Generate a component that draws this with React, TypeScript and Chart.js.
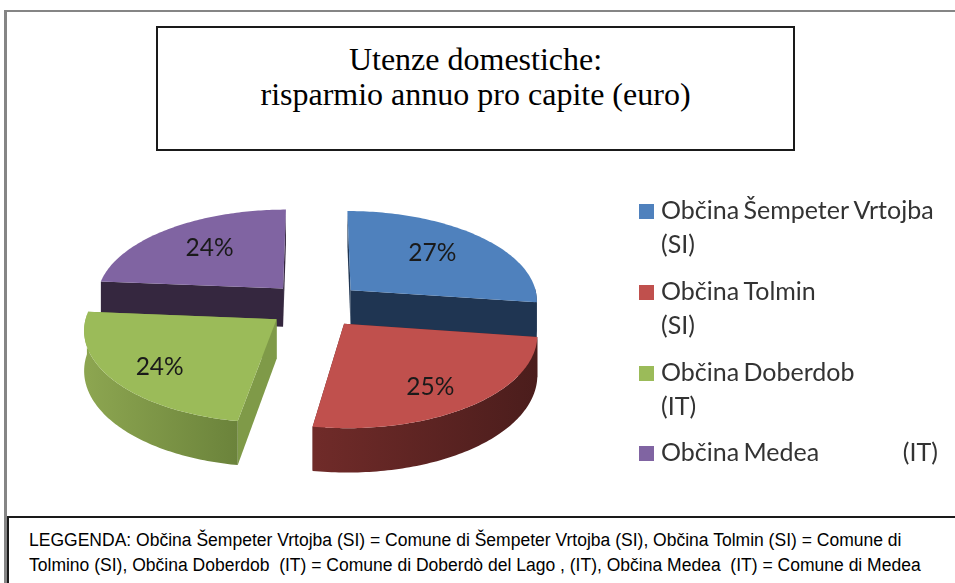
import React, { useEffect, useRef } from "react";
import { Chart, registerables } from "chart.js";

Chart.register(...registerables);

const categories: string[][] = [
  ["Občina Šempeter Vrtojba", "(SI)"],
  ["Občina Tolmin", "(SI)"],
  ["Občina Doberdob", "(IT)"],
  ["Občina Medea                   (IT)"],
];
const shares = [27.2, 25.4, 23.7, 23.7];
const topColors = ["#4f81bd", "#c0504d", "#9bbb59", "#8064a2"];
const rimColors = [
  ["#1f3552", "#1f3552"],
  ["#702b29", "#4b1d1c"],
  ["#8ca550", "#6b833b"],
  ["#35273f", "#35273f"],
];
const wallColors = ["#1f3552", "#5a2322", "#7f9a48", "#35273f"];
const labelRadii = [0.58, 0.7, 0.83, 0.59];
const labelNudges = [[5, -5], [0, 7], [17, -2], [-4, -4]];
const titleLines = ["Utenze domestiche:", "risparmio annuo pro capite (euro)"];
const noteLines = [
  "LEGGENDA: Občina Šempeter Vrtojba (SI) = Comune di Šempeter Vrtojba (SI), Občina Tolmin (SI) = Comune di",
  "Tolmino (SI), Občina Doberdob  (IT) = Comune di Doberdò del Lago , (IT), Občina Medea  (IT) = Comune di Medea",
];

const TILT = 0.478;
const PERSPECTIVE = 10;
const DEPTH = 39;
const DRAW_ORDER = [3, 0, 2, 1];

const pie3d = {
  id: "pie3d",
  beforeDatasetsDraw(chart: any) {
    const ctx: any = chart.ctx;
    const arcs = chart.getDatasetMeta(0).data;
    const project = (arc: any, x: number, y: number, z: number) => {
      const s = (PERSPECTIVE * arc.outerRadius) / (PERSPECTIVE * arc.outerRadius - y);
      return [arc.x + x * s, arc.y + TILT * y * s + z * s];
    };
    const poly = (pts: number[][], fill: any) => {
      ctx.beginPath();
      pts.forEach((p, i) => (i ? ctx.lineTo(p[0], p[1]) : ctx.moveTo(p[0], p[1])));
      ctx.closePath();
      ctx.fillStyle = fill;
      ctx.fill();
    };
    DRAW_ORDER.forEach((i) => {
      const arc = arcs[i];
      const R = arc.outerRadius;
      const a0 = arc.startAngle;
      const a1 = arc.endAngle;
      const mid = (a0 + a1) / 2;
      const off = arc.options.offset;
      const ox = off * Math.cos(mid);
      const oy = off * Math.sin(mid);
      const angles: number[] = [];
      const steps = 90;
      for (let k = 0; k <= steps; k++) angles.push(a0 + ((a1 - a0) * k) / steps);
      const edge = (t: number, z: number) =>
        project(arc, ox + R * Math.cos(t), oy + R * Math.sin(t), z);
      const apex = (z: number) => project(arc, ox, oy, z);

      [a0, a1].forEach((t) => {
        poly([apex(0), edge(t, 0), edge(t, DEPTH), apex(DEPTH)], wallColors[i]);
      });
      const visible = angles.filter((t) => Math.sin(t) > -0.05);
      if (visible.length > 1) {
        const xs = [edge(a0, 0)[0], edge(a1, 0)[0]];
        const g = ctx.createLinearGradient(Math.min(...xs), 0, Math.max(...xs), 0);
        g.addColorStop(0, rimColors[i][0]);
        g.addColorStop(1, rimColors[i][1]);
        poly(
          [
            ...visible.map((t) => edge(t, 0)),
            ...visible.slice().reverse().map((t) => edge(t, DEPTH)),
          ],
          g
        );
      }
      poly([apex(0), ...angles.map((t) => edge(t, 0))], topColors[i]);
    });

    ctx.fillStyle = "#1a1a1a";
    ctx.font = "24.5px Lato";
    ctx.textAlign = "center";
    ctx.textBaseline = "middle";
    arcs.forEach((arc: any, i: number) => {
      const mid = (arc.startAngle + arc.endAngle) / 2;
      const off = arc.options.offset;
      const r = arc.outerRadius * labelRadii[i] + off;
      const p = project(arc, r * Math.cos(mid), r * Math.sin(mid), 0);
      ctx.fillText(`${Math.round(shares[i])}%`, p[0] + labelNudges[i][0], p[1] + labelNudges[i][1]);
    });

    const rowY = [211, 292, 373, 453];
    ctx.textAlign = "left";
    ctx.font = "25px Lato";
    ctx.wordSpacing = "-2px";
    categories.forEach((lines, i) => {
      ctx.fillStyle = topColors[i];
      ctx.fillRect(639, rowY[i] - 7, 15, 15);
      ctx.fillStyle = "#333333";
      lines.forEach((line, j) => ctx.fillText(line, 661, rowY[i] + j * 34));
    });
    ctx.wordSpacing = "0px";
    return false;
  },
};

export default function App() {
  const ref = useRef<HTMLCanvasElement>(null);
  useEffect(() => {
    const chart = new Chart(ref.current!, {
      type: "pie",
      data: {
        labels: categories.map((c) => c.join(" ")),
        datasets: [{ data: shares, backgroundColor: topColors, borderWidth: 0, offset: 48, hoverOffset: 0 }],
      },
      options: {
        animation: false,
        responsive: false,
        layout: { padding: { left: 0, right: 325, top: 93, bottom: 66 } },
        plugins: { legend: { display: false }, tooltip: { enabled: false } },
      },
      plugins: [pie3d],
    } as any);
    return () => chart.destroy();
  }, []);
  return (
    <div style={{ position: "absolute", left: 0, top: 0, width: 955, height: 583, overflow: "hidden", background: "#fff", filter: "blur(0.4px)" }}>
      <div style={{ position: "absolute", left: 4, top: 10, width: 960, height: 600, boxSizing: "border-box", borderTop: "2.5px solid #858585", borderLeft: "3.5px solid #858585" }} />
      <canvas ref={ref} width={955} height={583} style={{ position: "absolute", left: 0, top: 0 }} />
      <div style={{ position: "absolute", left: 156, top: 26, width: 639, height: 125, boxSizing: "border-box", border: "2px solid #1a1a1a", background: "#fff", textAlign: "center", fontFamily: "'Liberation Serif'", fontSize: 32, lineHeight: "35px", color: "#000", paddingTop: 14 }}>
        {titleLines.map((l) => <div key={l}>{l}</div>)}
      </div>
      <div style={{ position: "absolute", left: 7, top: 516, width: 960, height: 80, boxSizing: "border-box", border: "2px solid #1a1a1a", background: "#fff" }} />
      {noteLines.map((l, i) => (
        <div key={l} style={{ position: "absolute", left: 29, top: 530 + i * 25, whiteSpace: "pre", fontFamily: "'Liberation Sans'", fontSize: 18, lineHeight: "20px", color: "#000", transformOrigin: "left top", transform: "scaleX(0.973)" }}>{l}</div>
      ))}
    </div>
  );
}
